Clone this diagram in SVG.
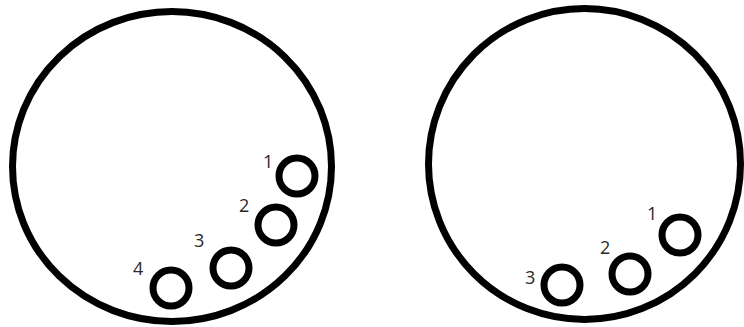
<svg xmlns="http://www.w3.org/2000/svg" width="744" height="327" viewBox="0 0 744 327">
<style>
.big{fill:none;stroke:#000;stroke-width:7}
.hole{fill:none;stroke:#000;stroke-width:7}
.lbl{font-family:"Open Sans","Liberation Sans",sans-serif;font-size:18px;fill:#2a2a2a}
</style>
<rect width="744" height="327" fill="#fff"/>
<g id="left">
<ellipse class="big" cx="172" cy="166.5" rx="159.5" ry="155"/>
<g id="l1"><circle class="hole" cx="297" cy="176" r="18"/><text class="lbl" x="263" y="168">1</text></g>
<g id="l2"><circle class="hole" cx="276" cy="225" r="18"/><text class="lbl" x="239" y="212">2</text></g>
<g id="l3"><circle class="hole" cx="231" cy="268" r="18"/><text class="lbl" x="194" y="247">3</text></g>
<g id="l4"><circle class="hole" cx="171" cy="288" r="18"/><text class="lbl" x="133" y="275">4</text></g>
</g>
<g id="right">
<ellipse class="big" cx="584.5" cy="164" rx="156" ry="155.5"/>
<g id="r1"><circle class="hole" cx="680" cy="235" r="18"/><text class="lbl" x="647" y="220">1</text></g>
<g id="r2"><circle class="hole" cx="630" cy="274" r="18"/><text class="lbl" x="600" y="254">2</text></g>
<g id="r3"><circle class="hole" cx="562" cy="285" r="18"/><text class="lbl" x="525" y="284">3</text></g>
</g>
<g id="connectors"/>
</svg>
